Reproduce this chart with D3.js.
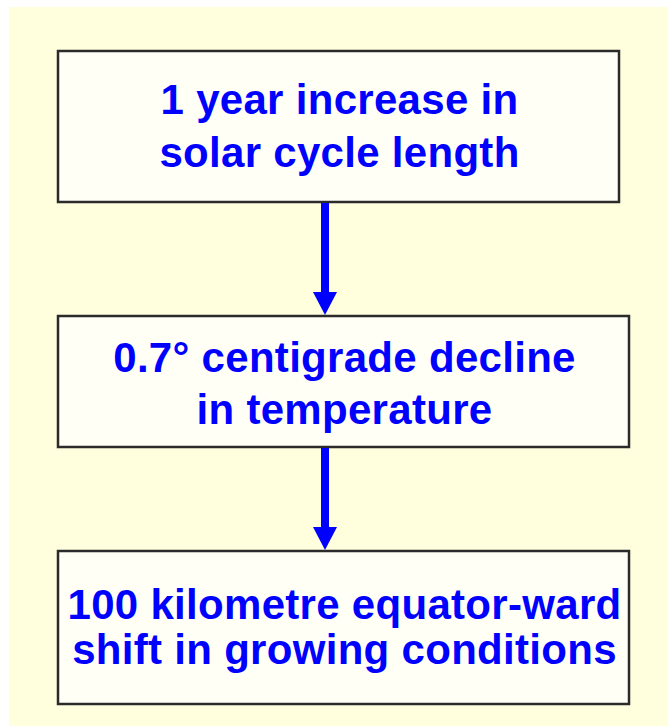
<!DOCTYPE html>
<html>
<head>
<meta charset="utf-8">
<script src="https://cdn.jsdelivr.net/npm/d3@7"></script>
<style>
  html, body { margin: 0; padding: 0; background: #fff; }
  svg { display: block; }
</style>
</head>
<body>
<div id="chart"></div>
<script>
// flow steps, one entry per box (each entry = lines of text)
const steps = [
  ['1 year increase in', 'solar cycle length'],
  ['0.7\u00b0 centigrade decline', 'in temperature'],
  ['100 kilometre equator-ward', 'shift in growing conditions']
];
// arrows link step i -> step i+1
const links = [[0, 1], [1, 2]];

const W = 668, H = 726;

// layout of boxes
const boxes = [
  {x0: 58, x1: 619, y0: 51, y1: 202, base: [114, 167]},
  {x0: 58, x1: 629, y0: 316, y1: 447, base: [372, 424]},
  {x0: 58, x1: 629, y0: 551, y1: 704, base: [619, 664]}
];

const svg = d3.select('#chart')
  .append('svg')
  .attr('width', W)
  .attr('height', H);

svg.append('rect')
  .attr('x', 9)
  .attr('y', 7)
  .attr('width', W - 9)
  .attr('height', H - 7)
  .attr('fill', '#ffffdd');

const g = svg.selectAll('g.step')
  .data(steps)
  .join('g')
  .attr('class', 'step');

g.append('rect')
  .attr('x', (d, i) => boxes[i].x0)
  .attr('y', (d, i) => boxes[i].y0)
  .attr('width', (d, i) => boxes[i].x1 - boxes[i].x0)
  .attr('height', (d, i) => boxes[i].y1 - boxes[i].y0)
  .attr('fill', '#fffff6')
  .attr('stroke', '#2b2b2b')
  .attr('stroke-width', 2.5);

g.selectAll('text')
  .data((d, i) => d.map((t, j) => ({t, i, j})))
  .join('text')
  .attr('x', d => (boxes[d.i].x0 + boxes[d.i].x1) / 2 + 1)
  .attr('y', d => boxes[d.i].base[d.j])
  .attr('text-anchor', 'middle')
  .style('font-family', '"Liberation Sans", Arial, sans-serif')
  .style('font-weight', 'bold')
  .style('font-size', '42px')
  .style('letter-spacing', '0.3px')
  .attr('fill', '#0000ff')
  .text(d => d.t);

// arrows
const ax = 325;
const arrows = svg.selectAll('g.arrow')
  .data(links)
  .join('g')
  .attr('class', 'arrow');

arrows.append('line')
  .attr('x1', ax)
  .attr('x2', ax)
  .attr('y1', d => boxes[d[0]].y1 + 1)
  .attr('y2', d => boxes[d[1]].y0 - 18)
  .attr('stroke', '#0000ff')
  .attr('stroke-width', 8);

arrows.append('path')
  .attr('d', d => {
    const tip = boxes[d[1]].y0 - 1;
    return `M${ax - 12},${tip - 23} L${ax + 12},${tip - 23} L${ax},${tip} Z`;
  })
  .attr('fill', '#0000ff');
</script>
</body>
</html>
